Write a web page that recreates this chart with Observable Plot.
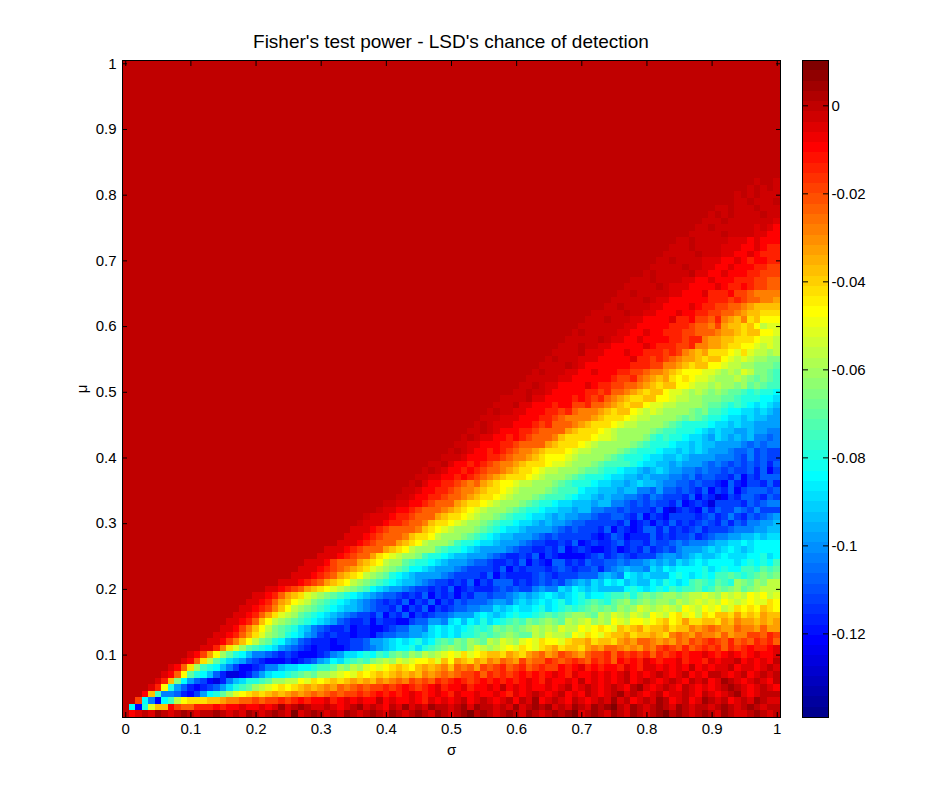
<!DOCTYPE html>
<html>
<head>
<meta charset="utf-8">
<script src="https://cdn.jsdelivr.net/npm/d3@7"></script>
<script src="https://cdn.jsdelivr.net/npm/@observablehq/plot@0.6"></script>
<style>
html,body{margin:0;padding:0;background:#fff}
#chart{position:relative;width:939px;height:806px;font-family:"Liberation Sans",Arial,sans-serif;overflow:hidden}
#chart svg{position:absolute;top:0}
#title{position:absolute;left:122px;width:658px;top:32px;text-align:center;font-size:19px;color:#000;line-height:20px;white-space:nowrap}
</style>
</head>
<body>
<div id="chart"><div id="title"></div></div>
<script>
const titleText = "Fisher's test power - LSD's chance of detection";
const xTicks = [0,0.1,0.2,0.3,0.4,0.5,0.6,0.7,0.8,0.9,1];
const yTicks = [0.1,0.2,0.3,0.4,0.5,0.6,0.7,0.8,0.9,1];
const barTicks = [0,-0.02,-0.04,-0.06,-0.08,-0.1,-0.12];
const vMin = -0.139, vMax = 0.0103;
const jetStopLevels = [0,7,23,39,55,63];
const jetStops = ["#00008f","#0000ff","#00ffff","#ffff00","#ff0000","#800000"];

// Values: bands are read off, cell-level noise is approximate, not an exact readout.
// One entry per row, mu=0.82 at the top down to mu=0.01 (rows above are all background "t").
// "col:digits" writes base-32 colour levels from sigma column col; a gap holds the last digit (run-length).
// "w" is the one extra level between background "t" and "s".
const rowsTopDown = [
"96:twttw","95:twtwtw","94:wtwtwww","92:ttwwtwwwtw","91:wwtwwwtwww","90:wtwtwwwwtww","89:wwwtwwwwwwws",
"88:wwtwwwwwwswsr","87:wwwwwtwwwwssr","85:wwtwwwwwsss 96:rsrr","84:wwwtwwwwsss 95:rrsrq","83:wwwwwtwwwsss 94:rrsrqq",
"82:wwtwwwwsss 92:rrsrqrrq","81:wwwwwtwwsss 91:rrsrrrqqp","80:wtwwwwwtss 90:rrsrrrqqpp","78:wwwtwwwwsss 88:rrsrrrqqqppo",
"77:wwwwwtwsss 87:rrrrsrqqrqppoo","76:wwtwwwwwsss 86:rrrsqqqrpponn","75:wwwwwtwsss 84:rrrrrrqqqpqpoonnm",
"74:wwtwwwwsss 83:rrrrsrqqppoonml","72:wwwwwtwwss 82:rrrsrrqqppoonmllk","71:wwwtwwwsss 80:rrrrsqqrppoqnmlnkljj",
"70:wwwwwwwsst 79:rrrrrqqqpoonpmllkljhi",
"69:wtwwwwwss 78:rrsrrqqqppoo 91:nmmlkl 98:jji",
"68:wwwwwtws 77:rrsrrrrqqpqq 89:nmmllkk 97:jiih",
"67:wwwtwwss 75:rrrrrsrqqqppq 88:nnmmlk 95:jjihihg",
"66:wwwwtss 74:rrrsrrqqqpqpo 86:nmlmkk 93:jikihhgh",
"65:wtwwwss 73:rrrrrsqqpqpo 85:nmmlkl 92:jihihggf 100:f",
"64:wwwwtws 71:rrrrrrrqqqppo 83:nnmlkl 90:jjihhggff 100:e",
"63:wtwwwss 70:rrsrrrqqpponn 82:nmlkj 88:jiihghgihf 98:fed",
"62:wwwwwss 69:rrrrrrqppqo 80:nmlmkjk 87:jiihggghg 96:fefed",
"61:wwtwss 67:rrrrsrqqppoo 79:nmlkl 85:jjihhghg 94:fgefedd",
"60:wwtwwss 66:rrrrrqqpqoo 77:nmlkl 83:jiihghgfg 92:feedcdc 100:b",
"58:wwwwtss 65:rrrrqrqpqo 75:nmlkkl 82:jjihhggf 91:feedcc 98:bba",
"57:wwwtss 63:rrrqrrppqoo 74:nmlkl 80:jiihhgg 89:feedcdc 96:baba9",
"56:wtwwss 62:rrrqqpqon 72:nmlkl 78:jihihgg 87:fefddcb 94:baa9a98",
"55:wwwss 61:rrrqqpon 71:nmlkk 77:jihhgg 85:fefedcc 92:baa9a9988",
"54:wtwss 59:srrrqpqoo 69:nmlk 75:jihhgg 83:fedccc 90:baa9a99888",
"53:wwtwss 58:rrrqqpoo 68:mlkk 73:jihgg 81:feddc 88:ba9a99889887 100:7",
"52:wtwss 57:rrqrqpoo 66:nlkk 72:jiihg 80:fdcdc 86:baa98a98989 97:7767",
"51:wwss 55:rrrqqpoo 65:mlk 70:jihgg 78:fedcc 84:baa9a9988 95:76767",
"50:wtwss 54:rrqrqpon 63:mlk 68:jihhg 76:fedcc 82:baa9a9a9888 93:7667565",
"49:wwwss 53:rrrqqpon 62:mlkj 67:jihgg 74:fedcc 80:baa99a9888 91:777657565 100:5",
"47:wwtss 51:rrqrqpon 60:mlkk 65:jiihg 72:fedd 78:cbaa9989888 89:7676565645 97:5646",
"46:wtwss 50:rrqrqpo 58:nmlk 63:jihhgg 70:feedc 76:baa989a9888 86:7767665654 95:564635",
"45:wwss 49:rrqrqpon 57:mlk 62:jihgg 68:fedcc 74:baa9989888 84:77675665565 92:5463546",
"44:wtss 47:rrqqpono 55:mlkj 60:ihhgg 66:fedcc 72:baa9989a9 82:877665654 90:54364355464",
"43:wws 46:rrqqpon 54:mlk 58:jihgg 65:fedd 70:baa99989 79:77686656 87:5463546356 99:56",
"42:wws 45:rrqqpo 52:nmlk 57:jihg 63:fedd 68:cbaa9898 77:77657655 85:54635423546 97:5465",
"40:wws 44:rrqpoo 51:mlk 55:jihg 61:fedc 66:baa99989 75:77656565 83:546345425 94:546567",
"39:wss 42:rrqpoo 49:nmlk 53:jihg 59:fedc 64:baa9989 72:7766565 80:5463245436 90:465576575",
"37:wss 41:rqqpo 48:mlk 52:jihg 57:fedc 62:baa9898 70:776556 77:54635435 88:4564575465 98:678",
"36:wss 40:rqqpo 46:nlk 50:jihg 55:fedc 60:baa9898 68:76655 75:5463453546 85:45456546465 96:77889",
"35:ss 38:rqpo 45:nlk 48:jihg 54:fedc 58:baa98 66:76565 72:546354346 82:4645456455 92:56778 96:7889",
"34:ss 37:rqpo 43:nlk 47:jhg 52:fedc 56:ba998 63:76565 70:554346534 80:4645455645 90:677 93:8899a9a",
"33:ss 36:rqpo 42:mlk 45:jhg 50:fdc 54:baa98 61:76554 67:5463454 74:4564554655 84:6767 90:899aabab",
"31:ss 34:rqpo 40:mlk 43:jhg 48:edc 52:ba98 59:76554 65:54634543 74:45345464565 85:77 86:8889a9aba9ab 100:b",
"30:ss 33:rqpo 38:mkj 41:ihg 45:fdc 49:ba9 52:98 56:7654 61:5463543 71:4564565455 82:76 83:88789a99aba 96:bbcab",
"28:ss 31:rpo 36:mlk 39:jhg 43:edc 47:ba98 53:76654 59:54635436 68:45465566767 80:89898a9abab 92:bbabcbcbd",
"27:ss 30:rqpon 35:mlk 38:ih 40:gfed 43:dba 45:ba98 51:7655 56:5463545 65:456545564 74:67 76:89887a9bab 88:bcabcbbddcedf 100:e",
"26:ss 29:rqpon 33:mlk 36:jhg 39:fed 41:cb 43:a98 49:7655 54:546354 62:4565455 70:66 73:8987ba9a9 84:bcbabcbddedcdefeef 100:f",
"24:ss 27:rqpo 31:ml 33:kj 35:hg 37:fe 39:dc 41:ba9 44:98 46:765 49:54 51:5463546 60:4545654 66:65 68:78 70:98a9bab9a9 81:bacbabdedcedcg 95:fegfh",
"22:ss 24:rqpom 29:lk 31:ji 33:hg 35:fe 37:dc 38:ba 40:98 43:765 46:54 48:5463454 56:4565 60:655 63:7877 67:a9ba9a9 77:bcbabcbdcddecd 91:fefgefghh",
"20:ssrqoml 27:kihgfedcba987 40:6654 44:54635453546 56:566 59:7898 63:9aba9 68:abcabb 74:cddec 79:efefggf 86:ghhihgihih 96:jijhi",
"19:ssrqomlj 27:ihfedcba98 37:7654 41:54635463546 52:566 56:7887 60:9a9a9 64:babcab 70:cdedc 75:efgefgf 82:ggfhghih 90:ihjihijii 99:kj",
"18:ssrqpnljhgfedcba9 36:8765 40:546354635 49:4 50:566 53:7788 57:a9aba 62:abcab 67:cdcde 72:fefegf 78:gihghihg 86:jihjijhi 94:kjkjlkj",
"17:ssrqomkihgedcba98 34:765 37:546 40:3546354 47:566 50:788 54:aba9 58:abcbb 63:cded 67:efggfe 73:hgihgihg 81:jihjkijh 89:kjl 92:lkmklkml",
"16:ssrqoljhgfedcba98 33:654 36:4535443 44:566 47:887 50:ab9 53:bacab 58:cded 62:fefgfe 68:hghighg 75:jihjjij 82:kljkmkkllk 92:mlnmmlmlm",
"15:ssrpnljhfedca97 30:654 33:45344334 41:566 44:887 47:aba 50:bab 53:cdcd 57:fefefg 63:hghgihh 70:jijkji 76:lklmkllmkl 87:nmnonmmonnmom",
"14:ssrqomkigfecba8 29:754 32:54434434 39:566 42:778 45:89aba 50:bac 53:cded 57:efgfee 63:hgihhg 69:jikji 74:kllmkllmlk 84:nonmonnm 92:omnnppoqp",
"13:ssrpnljhfecb9 26:8654 30:44344 35:556 38:889 41:aba 44:bcab 48:ded 51:fegfe 56:hgihgi 62:jikjji 68:kllmkllkm 77:nmoonmnmon 87:popqpoqopoqpqo",
"12:ssqnkigedcba8 25:76543 30:44334 35:556 38:78 40:9ab 43:bca 46:cd 48:efgfe 53:gihghi 59:jikji 64:klmkllkm 72:nmoonmnmon 82:pqpoqopq 90:pqoqpqrqq 99:rs",
"10:srpmjgecb9776545433345 32:78aabcbdcefegfhghih 50:jikijk 56:llkmlkm 63:nomnponmo 72:ppqoqpqpqoqp 84:qrqrrsrqrsrqrsrrs",
"9:srokheca9865433343456 30:89bacdedfghgihij 46:jkilj 51:mlkmln 57:monmpnoo 65:qpopqpoqpqo 76:rqrqsrqrrsqrrqs 91:rsstrsrsrt",
"7:srokgdcb97533 20:4577 24:9aabbcddegfhgijijklkj 45:lmlmnl 51:onompo 57:pqopqopqpp 67:rqrsqrqrrqsrqs 81:srsrsrtrsrsstrssrsts",
"6:srojecb96422346 21:8abbcdefegghijikjkl 40:klmlml 46:nmnonop 53:pqoqpqpqrq 63:rqrsrqsrrsrsr 76:strsrstsrstrsrttsrstrstst",
"5:sqlfb86532479accdeggh 27:jikjklklmlmlnm 41:nonpopoq 49:pqrqpqrqrqrq 61:rsrqsrrsrtrsrsr 76:strstsrstsrtstrsutsrstsrt",
"4:sqjc8643 12:4568acdeghijkjklmlmnmo 34:nopoppq 41:pqrqpqrsqr 51:rsqrrsrtrsrsrrsrstrs 71:tsrstsrtusrstsrtsrsrstutsrstsr",
"3:rld7764358bcegijklklmlmnmno 29:onopoppqpqrq 41:rqrsrqrsrqsrrsrrsrqs 61:rstsrstrsrtsrstustsrstrsstsrtsrstusrstt",
"2:pb73bdhjkkkllmnnoopoppqpqrqr 30:rsqrsrsrrtrsrrsrqsrsr 51:strstsrstrtsurstsrtsrstsustrstsutrstrsutstrstsuts",
"1:b3cillrpooqqqrqrrsrrsrs 24:ustutsstsrstustsrtsustsuttstusuttstsustutustsutsutuvtsutstutsutsttstutstutst",
"0:trstsutstutsttutstsutstutsvstutstsutstutsutstutsutstuvtutstutsutstutuvstutsutsutstuvtutstutsutsstutstu"
];
const topRow = 82;

const levelOf = ch => ch === "w" ? 58 : 2 * parseInt(ch, 32) + 1;
const valueOf = level => vMin + (level + 0.5) / 64 * (vMax - vMin);
function expandRow(entry) {
  const row = new Array(101).fill(null);
  for (const chunk of (entry || "").split(" ").filter(Boolean)) {
    const [col, digits] = chunk.split(":");
    [...digits].forEach((ch, i) => { if (+col + i <= 100) row[+col + i] = ch; });
  }
  let last = "t";
  return row.map(ch => (last = ch ?? last));
}
const cells = [];
for (let m = 1; m <= 100; m++) {
  const row = expandRow(m <= topRow ? rowsTopDown[topRow - m] : "");
  row.forEach((ch, c) => cells.push({sigma: c / 100, mu: m / 100, v: valueOf(levelOf(ch))}));
}
const barLevels = d3.range(64).map(l => ({lo: vMin + l / 64 * (vMax - vMin), hi: vMin + (l + 1) / 64 * (vMax - vMin), v: valueOf(l)}));
const color = {type: "linear", domain: jetStopLevels.map(valueOf), range: jetStops};
const font = {fontFamily: '"Liberation Sans", Arial, sans-serif', fontSize: "15px", background: "transparent"};

document.getElementById("title").textContent = titleText;

const main = Plot.plot({
  width: 800, height: 806,
  marginLeft: 122, marginRight: 20, marginTop: 60, marginBottom: 89,
  style: font,
  x: {domain: [-0.005, 1.005], label: null},
  y: {domain: [0.005, 1.005], label: null},
  color,
  marks: [
    Plot.rect(cells, {x1: d => d.sigma - 0.005, x2: d => d.sigma + 0.005, y1: d => d.mu - 0.005, y2: d => d.mu + 0.005, fill: "v", shapeRendering: "crispEdges"}),
    Plot.axisX({ticks: xTicks, anchor: "bottom", tickSize: -5, tickPadding: 11, tickFormat: d => String(d), label: "σ", labelAnchor: "center", labelArrow: "none", labelOffset: 37}),
    Plot.axisY({ticks: yTicks, anchor: "left", tickSize: -5, tickPadding: 11, tickFormat: d => String(d), label: "μ", labelAnchor: "center", labelArrow: "none", labelOffset: 46}),
    Plot.axisX({ticks: xTicks, anchor: "top", tickSize: -5, tickFormat: () => "", label: null}),
    Plot.axisY({ticks: yTicks, anchor: "right", tickSize: -5, tickFormat: () => "", label: null}),
    Plot.frame({stroke: "#000", strokeWidth: 1})
  ]
});
main.style.left = "0px";

const bar = Plot.plot({
  width: 159, height: 806,
  marginLeft: 22, marginRight: 111, marginTop: 60, marginBottom: 89,
  style: font,
  x: {domain: [0, 1], axis: null},
  y: {domain: [vMin, vMax], label: null},
  color,
  marks: [
    Plot.rect(barLevels, {x1: 0, x2: 1, y1: "lo", y2: "hi", fill: "v", shapeRendering: "crispEdges"}),
    Plot.axisY({ticks: barTicks, anchor: "right", tickSize: -6, tickPadding: 9, tickFormat: d => String(d), label: null}),
    Plot.axisY({ticks: barTicks, anchor: "left", tickSize: -6, tickFormat: () => "", label: null}),
    Plot.frame({stroke: "#000", strokeWidth: 1})
  ]
});
bar.style.left = "780px";

const host = document.getElementById("chart");
host.appendChild(main);
host.appendChild(bar);
</script>
</body>
</html>
